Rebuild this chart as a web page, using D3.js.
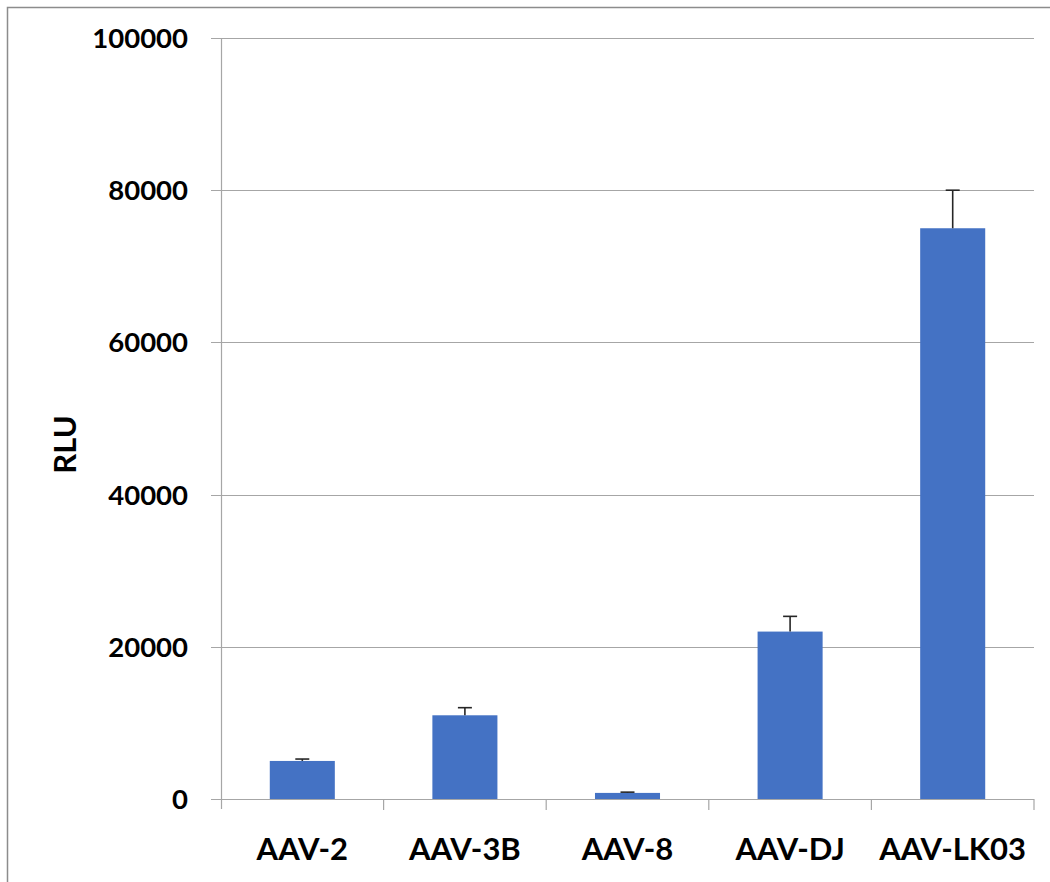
<!DOCTYPE html>
<html>
<head>
<meta charset="utf-8">
<script src="https://cdn.jsdelivr.net/npm/d3@7"></script>
<style>
  body { margin: 0; background: #fff; }
  svg text { font-family: Lato, "Open Sans", sans-serif; font-weight: bold; fill: #000; }
</style>
</head>
<body>
<div id="chart"></div>
<script>
/* data */
const categories = ["AAV-2", "AAV-3B", "AAV-8", "AAV-DJ", "AAV-LK03"];
const values = [5000, 11000, 800, 22000, 75000];
const errors = [250, 1000, 100, 2000, 5000];
const yTicks = [0, 20000, 40000, 60000, 80000, 100000];

/* layout */
const W = 1050, H = 882;
const plotLeft = 221, plotRight = 1034, plotTop = 38, plotBottom = 799;

const svg = d3.select("#chart").append("svg")
  .attr("width", W).attr("height", H);

svg.append("rect").attr("width", W).attr("height", H).attr("fill", "#fff");

// outer frame (left + top edges visible)
svg.append("path")
  .attr("d", `M7.5,${H} L7.5,7.5 L${W},7.5`)
  .attr("fill", "none").attr("stroke", "#8c8c8c").attr("stroke-width", 1.5);

const x = d3.scaleBand().domain(categories).range([plotLeft, plotRight]).padding(0);
const y = d3.scaleLinear().domain([0, 100000]).range([plotBottom, plotTop]);

// gridlines
svg.append("g").selectAll("line")
  .data(yTicks.filter(d => d > 0))
  .join("line")
  .attr("x1", plotLeft - 10).attr("x2", plotRight)
  .attr("y1", d => Math.round(y(d)) + 0.5).attr("y2", d => Math.round(y(d)) + 0.5)
  .attr("stroke", "#a6a6a6").attr("stroke-width", 1.2);

// y axis line
svg.append("line")
  .attr("x1", plotLeft + 0.5).attr("x2", plotLeft + 0.5)
  .attr("y1", plotTop).attr("y2", plotBottom + 10)
  .attr("stroke", "#a6a6a6").attr("stroke-width", 1.2);

// bars
const barW = x.step() * 0.4;
svg.append("g").selectAll("rect")
  .data(categories)
  .join("rect")
  .attr("x", (d) => x(d) + (x.bandwidth() - barW) / 2)
  .attr("width", barW)
  .attr("y", (d, i) => y(values[i]))
  .attr("height", (d, i) => plotBottom - y(values[i]))
  .attr("fill", "#4472c4");

// error bars (upper only)
const eb = svg.append("g").attr("stroke", "#262626").attr("stroke-width", 1.6);
categories.forEach((c, i) => {
  const cx = x(c) + x.bandwidth() / 2;
  eb.append("line")
    .attr("x1", cx).attr("x2", cx)
    .attr("y1", y(values[i])).attr("y2", y(values[i] + errors[i]));
  eb.append("line")
    .attr("x1", cx - 7).attr("x2", cx + 7)
    .attr("y1", y(values[i] + errors[i])).attr("y2", y(values[i] + errors[i]));
});

// x axis line + category ticks
svg.append("line")
  .attr("x1", plotLeft - 10).attr("x2", plotRight)
  .attr("y1", plotBottom + 0.5).attr("y2", plotBottom + 0.5)
  .attr("stroke", "#a6a6a6").attr("stroke-width", 1.2);

svg.append("g").selectAll("line")
  .data(categories.slice(1).map(c => x(c)).concat([plotRight]))
  .join("line")
  .attr("x1", d => d).attr("x2", d => d)
  .attr("y1", plotBottom).attr("y2", plotBottom + 11)
  .attr("stroke", "#a6a6a6").attr("stroke-width", 1.2);

// y tick labels
svg.append("g").selectAll("text")
  .data(yTicks)
  .join("text")
  .attr("x", 188)
  .attr("y", d => y(d))
  .attr("dy", "0.36em")
  .attr("text-anchor", "end")
  .style("font-size", "27.5px")
  .text(d => d);

// x labels
svg.append("g").selectAll("text")
  .data(categories)
  .join("text")
  .attr("x", d => x(d) + x.bandwidth() / 2)
  .attr("y", 860)
  .attr("text-anchor", "middle")
  .style("font-size", "31px")
  .text(d => d);

// y axis title
svg.append("text")
  .attr("transform", `translate(76,${(plotTop + plotBottom) / 2 + 26}) rotate(-90)`)
  .attr("text-anchor", "middle")
  .style("font-size", "31px")
  .text("RLU");
</script>
</body>
</html>
